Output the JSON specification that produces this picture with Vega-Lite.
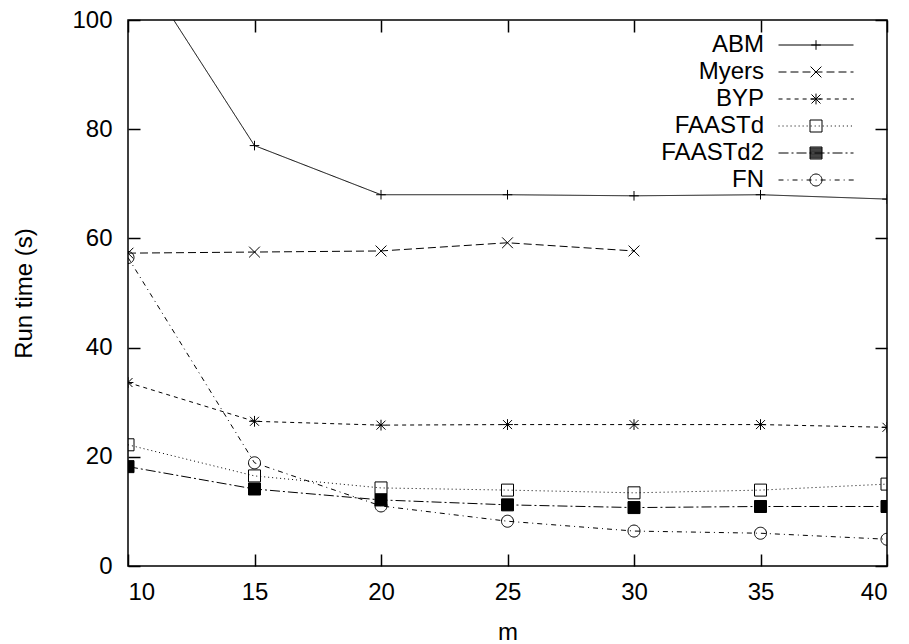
{
  "$schema": "https://vega.github.io/schema/vega-lite/v6.json",
  "width": 759,
  "height": 546,
  "autosize": {"type": "none"},
  "padding": {"left": 128, "top": 20, "right": 22, "bottom": 78},
  "background": "white",
  "config": {
    "view": {"stroke": "black", "strokeWidth": 1.5},
    "font": "Liberation Sans",
    "axis": {
      "labelFont": "Liberation Sans",
      "labelFontSize": 24,
      "labelColor": "black",
      "titleFont": "Liberation Sans",
      "titleFontSize": 24,
      "titleFontWeight": "normal",
      "titleColor": "black",
      "tickColor": "black",
      "tickWidth": 1.5,
      "tickSize": -12,
      "domain": false,
      "grid": false
    },
    "legend": {
      "labelFont": "Liberation Sans",
      "labelFontSize": 24,
      "labelColor": "black",
      "padding": 0
    }
  },
  "data": {
    "values": [
      {"m": 10, "series": "ABM", "time": 113},
      {"m": 15, "series": "ABM", "time": 77},
      {"m": 20, "series": "ABM", "time": 68},
      {"m": 25, "series": "ABM", "time": 68},
      {"m": 30, "series": "ABM", "time": 67.8},
      {"m": 35, "series": "ABM", "time": 68},
      {"m": 40, "series": "ABM", "time": 67.2},
      {"m": 10, "series": "Myers", "time": 57.3},
      {"m": 15, "series": "Myers", "time": 57.5},
      {"m": 20, "series": "Myers", "time": 57.7},
      {"m": 25, "series": "Myers", "time": 59.2},
      {"m": 30, "series": "Myers", "time": 57.7},
      {"m": 10, "series": "BYP", "time": 33.6},
      {"m": 15, "series": "BYP", "time": 26.5},
      {"m": 20, "series": "BYP", "time": 25.8},
      {"m": 25, "series": "BYP", "time": 25.9},
      {"m": 30, "series": "BYP", "time": 25.9},
      {"m": 35, "series": "BYP", "time": 25.9},
      {"m": 40, "series": "BYP", "time": 25.4},
      {"m": 10, "series": "FAASTd", "time": 22.2},
      {"m": 15, "series": "FAASTd", "time": 16.5},
      {"m": 20, "series": "FAASTd", "time": 14.3},
      {"m": 25, "series": "FAASTd", "time": 13.9},
      {"m": 30, "series": "FAASTd", "time": 13.4},
      {"m": 35, "series": "FAASTd", "time": 13.9},
      {"m": 40, "series": "FAASTd", "time": 15.0},
      {"m": 10, "series": "FAASTd2", "time": 18.2},
      {"m": 15, "series": "FAASTd2", "time": 14.1},
      {"m": 20, "series": "FAASTd2", "time": 12.1},
      {"m": 25, "series": "FAASTd2", "time": 11.2},
      {"m": 30, "series": "FAASTd2", "time": 10.7},
      {"m": 35, "series": "FAASTd2", "time": 10.9},
      {"m": 40, "series": "FAASTd2", "time": 10.9},
      {"m": 10, "series": "FN", "time": 56.5},
      {"m": 15, "series": "FN", "time": 18.9},
      {"m": 20, "series": "FN", "time": 11.0},
      {"m": 25, "series": "FN", "time": 8.2},
      {"m": 30, "series": "FN", "time": 6.4},
      {"m": 35, "series": "FN", "time": 6.0},
      {"m": 40, "series": "FN", "time": 4.9}
    ]
  },
  "layer": [
    {
      "mark": {"type": "line", "clip": true, "color": "black", "strokeWidth": 1},
      "encoding": {
        "x": {
          "field": "m", "type": "quantitative",
          "scale": {"domain": [10, 40], "nice": false, "zero": false},
          "axis": {"orient": "bottom", "values": [10, 15, 20, 25, 30, 35, 40], "title": "m", "labelPadding": 26, "titlePadding": 16}
        },
        "y": {
          "field": "time", "type": "quantitative",
          "scale": {"domain": [0, 100], "nice": false},
          "axis": {"orient": "left", "values": [0, 20, 40, 60, 80, 100], "title": "Run time (s)", "labelPadding": 28, "titlePadding": 35}
        },
        "detail": {"field": "series", "type": "nominal"},
        "strokeDash": {
          "field": "series", "type": "nominal",
          "scale": {
            "domain": ["Myers", "BYP", "FAASTd", "FAASTd2", "FN", "ABM"],
            "range": [[8, 4], [4, 4], [1, 3], [10, 3, 2, 3], [5, 4, 1, 4], [1, 0]]
          },
          "legend": null
        }
      }
    },
    {
      "mark": {"type": "point", "clip": true, "filled": true, "stroke": "black", "strokeWidth": 1, "size": 144, "opacity": 1},
      "encoding": {
        "x": {
          "field": "m", "type": "quantitative",
          "axis": {"orient": "top", "values": [10, 15, 20, 25, 30, 35, 40], "labels": false, "title": null}
        },
        "y": {
          "field": "time", "type": "quantitative",
          "axis": {"orient": "right", "values": [0, 20, 40, 60, 80, 100], "labels": false, "title": null}
        },
        "shape": {
          "field": "series", "type": "nominal",
          "scale": {
            "domain": ["FN", "FAASTd2", "FAASTd", "BYP", "Myers", "ABM"],
            "range": [
              "M1,0A1,1,0,1,1,-1,0A1,1,0,1,1,1,0Z",
              "M-1,-1H1V1H-1Z",
              "M-1,-1H1V1H-1Z",
              "M-0.9,0H0.9M0,-0.9V0.9M-0.75,-0.75L0.75,0.75M-0.75,0.75L0.75,-0.75",
              "M-0.9,-0.9L0.9,0.9M-0.9,0.9L0.9,-0.9",
              "M-0.8,0H0.8M0,-0.8V0.8"
            ]
          },
          "legend": null
        },
        "fill": {
          "condition": {"test": "datum.series === 'FAASTd2'", "value": "black"},
          "value": "transparent"
        }
      }
    },
    {
      "transform": [{"filter": "datum.time > 100"}],
      "mark": {"type": "point", "clip": true, "filled": false, "stroke": "black", "strokeWidth": 1, "size": 144, "opacity": 1},
      "encoding": {
        "x": {"field": "m", "type": "quantitative", "axis": null},
        "y": {"field": "time", "type": "quantitative", "axis": null},
        "shape": {
          "field": "series", "type": "nominal",
          "scale": {
            "domain": ["ABM", "Myers", "BYP", "FAASTd", "FAASTd2", "FN"],
            "range": [
              "M-6.25,0H6.25M-0.8,0H0.8M0,-0.8V0.8",
              "M-6.25,0h1.33m0.67,0h1.33m0.67,0h1.33m0.67,0h1.33m0.67,0h1.33m0.67,0h1.33m0.67,0h0.5M-0.9,-0.9L0.9,0.9M-0.9,0.9L0.9,-0.9",
              "M-6.25,0h0.67m0.67,0h0.67m0.67,0h0.67m0.67,0h0.67m0.67,0h0.67m0.67,0h0.67m0.67,0h0.67m0.67,0h0.67m0.67,0h0.67m0.67,0h0.5M-0.9,0H0.9M0,-0.9V0.9M-0.75,-0.75L0.75,0.75M-0.75,0.75L0.75,-0.75",
              "M-6.25,0h0.17m0.5,0h0.17m0.5,0h0.17m0.5,0h0.17m0.5,0h0.17m0.5,0h0.17m0.5,0h0.17m0.5,0h0.17m0.5,0h0.17m0.5,0h0.17m0.5,0h0.17m0.5,0h0.17m0.5,0h0.17m0.5,0h0.17m0.5,0h0.17m0.5,0h0.17m0.5,0h0.17m0.5,0h0.17m0.5,0h0.17M-1,-1H1V1H-1Z",
              "M-6.25,0h1.67m0.5,0h0.33m0.5,0h1.67m0.5,0h0.33m0.5,0h1.67m0.5,0h0.33m0.5,0h1.67m0.5,0h0.33m0.5,0h0.5M-1,-1H1V1H-1ZM-1,-0.83H1M-1,-0.67H1M-1,-0.5H1M-1,-0.33H1M-1,-0.17H1M-1,0H1M-1,0.17H1M-1,0.33H1M-1,0.5H1M-1,0.67H1M-1,0.83H1",
              "M-6.25,0h0.83m0.67,0h0.17m0.67,0h0.83m0.67,0h0.17m0.67,0h0.83m0.67,0h0.17m0.67,0h0.83m0.67,0h0.17m0.67,0h0.83m0.67,0h0.17m0.67,0h0.83M1,0A1,1,0,1,1,-1,0A1,1,0,1,1,1,0Z"
            ]
          },
          "legend": {
            "title": null,
            "orient": "none",
            "legendX": 676,
            "legendY": 13,
            "labelAlign": "right",
            "labelOffset": -64,
            "rowPadding": 3,
            "symbolSize": 144,
            "symbolFillColor": "transparent",
            "symbolStrokeColor": "black",
            "symbolStrokeWidth": 1,
            "symbolOpacity": 1
          }
        }
      }
    }
  ],
  "resolve": {
    "axis": {"x": "independent", "y": "independent"},
    "scale": {"shape": "independent"},
    "legend": {"shape": "independent"}
  }
}
